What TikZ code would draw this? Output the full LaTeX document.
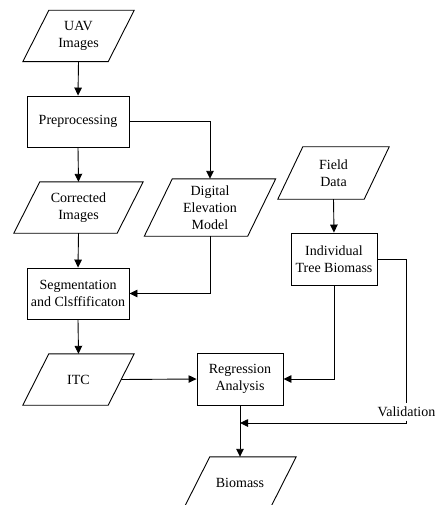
\documentclass[tikz,border=0pt]{standalone}
\usepackage{fontspec}
\setmainfont{Liberation Serif}
\usetikzlibrary{arrows.meta}
\begin{document}
\begin{tikzpicture}[x=1pt,y=-1pt,
  every node/.style={font=\fontsize{14}{17}\selectfont, align=center, inner sep=0pt},
  box/.style={draw, line width=0.9pt, minimum width=#1, minimum height=51pt},
  para/.style={minimum width=#1, minimum height=51pt},
  conn/.style={line width=0.9pt, -{Triangle[length=8pt,width=7.5pt]}},
  plain/.style={line width=0.9pt}]
\useasboundingbox (0,0) rectangle (438,505);
% nodes
\node[para=85] (uav) at (78.5,36) {UAV\\Images};
\node[box=102] (pre) at (78,121.5) {Preprocessing};
\node[para=103] (corr) at (78.5,207.5) {Corrected\\Images};
\node[para=103, minimum height=57pt] (dem) at (210,207.5) {Digital\\Elevation\\Model};
\node[box=102] (seg) at (78,293.5) {Segmentation\\and Clsffificaton};
\node[para=85] (itc) at (78.5,379.5) {ITC};
\node[para=86, minimum height=52pt] (field) at (333.5,173) {Field\\Data};
\node[box=86, minimum height=52pt] (ind) at (334,259) {Individual\\Tree Biomass};
\node[box=86, minimum height=52pt] (reg) at (240,379) {Regression\\Analysis};
\node[para=86] (bio) at (240,482.5) {Biomass};
\node[inner sep=3.5pt] (val) at (406.5,412) {Validation};
\coordinate (valjoin) at (reg.south |- 0,423);
% parallelograms
\foreach \n/\s in {uav/13,corr/13,dem/14,itc/13,field/12.5,bio/13}
  \draw[plain] ([xshift=\s pt]\n.north west) -- ([xshift=\s pt]\n.north east)
     -- ([xshift=-\s pt]\n.south east) -- ([xshift=-\s pt]\n.south west) -- cycle;
% connectors
\draw[conn] (uav.south) -- (pre.north);
\draw[conn] (pre.south) -- (corr.north);
\draw[conn] (pre.east) -| (dem.north);
\draw[conn] (corr.south) -- (seg.north);
\draw[conn] (dem.south) |- (seg.east);
\draw[conn] (seg.south) -- (itc.north);
\draw[conn] (itc.east) -- (reg.west);
\draw[conn] (field.south) -- (ind.north);
\draw[conn] (ind.south) |- (reg.east);
\draw[conn] (reg.south) -- (bio.north);
\draw[plain] (ind.east) -| (val.north);
\draw[conn] (val.south) |- (valjoin);
\end{tikzpicture}
\end{document}
